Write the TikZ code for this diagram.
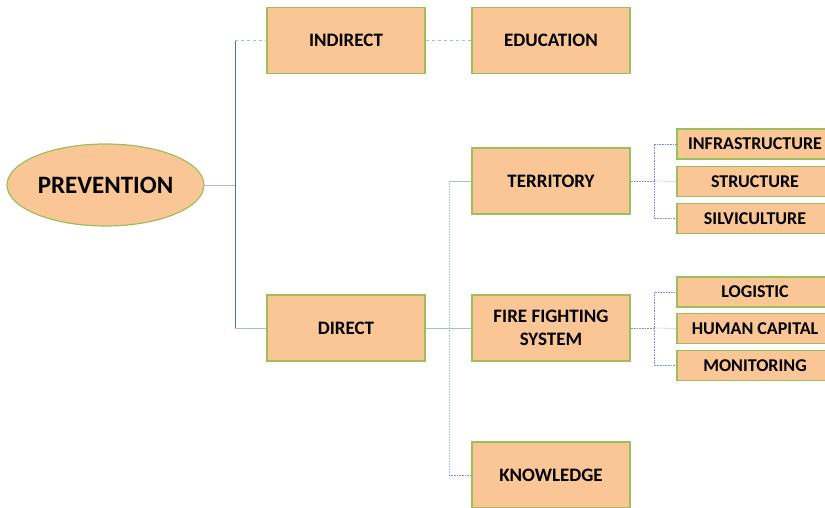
\documentclass[tikz,border=0pt]{standalone}
\usepackage{fontspec}
\setmainfont{Carlito}
\usetikzlibrary{shapes.geometric}
\definecolor{peach}{RGB}{250,198,150}
\definecolor{leaf}{RGB}{155,192,90}
\definecolor{wire}{RGB}{160,190,225}
\definecolor{trunkblue}{RGB}{75,115,180}
\tikzset{
  box/.style={rectangle, fill=peach, draw=leaf, line width=1.2pt, minimum width=158pt, minimum height=66pt, align=center, font=\bfseries\fontsize{19}{23}\selectfont},
  leafbox/.style={rectangle, fill=peach, draw=leaf, line width=1.2pt, minimum width=156pt, minimum height=30pt, inner sep=0pt, font=\bfseries\fontsize{18}{20}\selectfont},
  wire/.style={draw=wire, line width=0.6pt},
  dotwire/.style={draw=wire!75!blue, line width=0.6pt, densely dotted},
}
\begin{document}
\begin{tikzpicture}[x=1pt,y=-1pt]
\useasboundingbox (0,0) rectangle (825,508);
\node[ellipse, fill=peach, draw=leaf, line width=1.2pt, minimum width=197pt, minimum height=82pt, inner sep=0pt, font=\bfseries\fontsize{25}{28}\selectfont] (prev) at (105.5,185){PREVENTION};
\node[box] (indirect) at (346,40.5){INDIRECT};
\node[box] (educ) at (551,40.5){EDUCATION};
\node[box] (direct) at (346,328){DIRECT};
\node[box] (terr) at (551,181){TERRITORY};
\node[box] (ffs) at (551,328){FIRE FIGHTING\\SYSTEM};
\node[box] (know) at (551,475){KNOWLEDGE};
\node[leafbox] (infra) at (755,144){INFRASTRUCTURE};
\node[leafbox] (struct) at (755,181.5){STRUCTURE};
\node[leafbox] (silvi) at (755,218.5){SILVICULTURE};
\node[leafbox] (logi) at (755,292){LOGISTIC};
\node[leafbox] (human) at (755,328.5){HUMAN CAPITAL};
\node[leafbox] (moni) at (755,365.5){MONITORING};
\coordinate (jA) at (235,185);
\coordinate (jB) at (449,328);
\coordinate (jC) at (654,181);
\coordinate (jD) at (654,328);
\draw[wire] (prev) -- (jA);
\draw[trunkblue, line width=0.6pt] (indirect.west -| jA) -- (direct.west -| jA);
\draw[wire, dashed] (indirect.west -| jA) -- (indirect);
\draw[wire] (direct.west -| jA) -- (direct);
\draw[wire, dashed] (indirect) -- (educ);
\draw[wire] (direct) -- (ffs);
\draw[wire, densely dotted] (terr.west -| jB) -- (know.west -| jB);
\draw[wire] (terr.west -| jB) -- (terr);
\draw[dotwire] (know.west -| jB) -- (know);
\draw[dotwire] (terr) -- (jC);
\draw[dotwire] (jC) |- (infra);
\draw[dotwire] (jC) -- (struct.west);
\draw[dotwire] (jC) |- (silvi);
\draw[dotwire] (ffs) -- (jD);
\draw[dotwire] (jD) |- (logi);
\draw[dotwire] (jD) -- (human.west);
\draw[dotwire] (jD) |- (moni);
\end{tikzpicture}
\end{document}
